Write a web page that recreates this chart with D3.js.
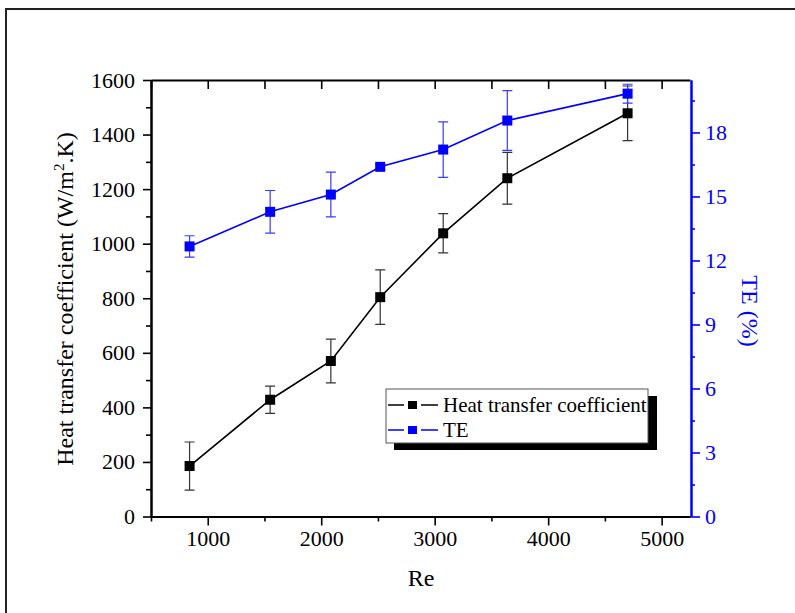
<!DOCTYPE html>
<html>
<head>
<meta charset="utf-8">
<script src="https://cdn.jsdelivr.net/npm/d3@7/dist/d3.min.js"></script>
<style>
  body { margin: 0; background: #fff; overflow: hidden; }
  svg { display: block; }
  .axis .domain { stroke-width: 2; }
  .axis line { stroke-width: 1.6; }
</style>
</head>
<body>
<svg id="chart" width="795" height="613"></svg>
<script>
// data
const re = [840, 1550, 2085, 2520, 3075, 3640, 4700]
const htc = [185, 428, 570, 804, 1038, 1240, 1478]
const htcErr = [88, 50, 80, 100, 72, 95, 100]
const te = [12.66, 14.28, 15.09, 16.39, 17.2, 18.56, 19.82]
const teErr = [0.5, 1.0, 1.05, 0.12, 1.3, 1.4, 0.44]

const xTicks = [1000, 2000, 3000, 4000, 5000]
const xMinor = [500, 1500, 2500, 3500, 4500]
const yTicks = [0, 200, 400, 600, 800, 1000, 1200, 1400, 1600]
const yMinor = [100, 300, 500, 700, 900, 1100, 1300, 1500]
const teTicks = [0, 3, 6, 9, 12, 15, 18]
const teMinor = [1.5, 4.5, 7.5, 10.5, 13.5, 16.5, 19.5]

const legendNames = ['Heat transfer coefficient', 'TE']

const plotLeft = 151, plotRight = 690, plotTop = 80, plotBottom = 516.5
const blue = '#0000ff'
const serif = '"Liberation Serif", "Times New Roman", serif'

const svg = d3.select('#chart').style('font-family', serif)

// outer frame of the figure (only top and left edges are in view)
svg.append('path')
   .attr('d', 'M6,613V9H795')
   .attr('fill', 'none')
   .attr('stroke', '#222')
   .attr('stroke-width', 2)

const x = d3.scaleLinear().domain([500, 5250]).range([plotLeft, plotRight])
const yL = d3.scaleLinear().domain([0, 1600]).range([plotBottom, plotTop])
const yR = d3.scaleLinear().domain([0, 20.46]).range([plotBottom, plotTop])

const pts = re.map((r, i) => ({ re: r, h: htc[i], he: htcErr[i], t: te[i], tee: teErr[i] }))

// axes
const addAxis = (axis, tx, ty, color) => {
    const g = svg.append('g')
                 .attr('class', 'axis')
                 .attr('transform', 'translate(' + tx + ',' + ty + ')')
                 .call(axis)
    g.attr('font-family', serif).attr('font-size', 22)
    g.selectAll('path, line').attr('stroke', color)
    g.selectAll('text')
     .attr('fill', color)
     .style('font-family', serif)
     .style('font-size', '22px')
    return g
}

const fmt = d3.format('d')

addAxis(d3.axisBottom(x).tickValues(xTicks).tickSize(9).tickSizeOuter(0).tickPadding(5).tickFormat(fmt), 0, plotBottom, '#000')
addAxis(d3.axisBottom(x).tickValues(xMinor).tickSize(5).tickSizeOuter(0).tickFormat(''), 0, plotBottom, '#000')
addAxis(d3.axisTop(x).tickValues(xTicks.concat(xMinor)).tickSize(-9).tickSizeOuter(0).tickFormat(''), 0, plotTop, '#000')
addAxis(d3.axisLeft(yL).tickValues(yTicks).tickSize(8).tickSizeOuter(0).tickPadding(8).tickFormat(fmt), plotLeft, 0, '#000')
addAxis(d3.axisLeft(yL).tickValues(yMinor).tickSize(5).tickSizeOuter(0).tickFormat(''), plotLeft, 0, '#000')
addAxis(d3.axisRight(yR).tickValues(teMinor).tickSize(4).tickSizeOuter(0).tickFormat(''), plotRight + 1, 0, blue)
addAxis(d3.axisRight(yR).tickValues(teTicks).tickSize(9).tickSizeOuter(0).tickPadding(5).tickFormat(fmt), plotRight + 1, 0, blue)

// axis titles
svg.append('text')
   .attr('x', 421).attr('y', 586)
   .attr('text-anchor', 'middle')
   .attr('font-size', 24)
   .text('Re')

const yTitle = svg.append('text')
   .attr('transform', 'translate(73,299) rotate(-90)')
   .attr('text-anchor', 'middle')
   .attr('font-size', 24)
yTitle.append('tspan').text('Heat transfer coefficient (W/m')
yTitle.append('tspan').attr('dy', -9).attr('font-size', 15).text('2')
yTitle.append('tspan').attr('dy', 9).text('.K)')

svg.append('text')
   .attr('transform', 'translate(742,311) rotate(90)')
   .attr('text-anchor', 'middle')
   .attr('font-size', 24)
   .attr('fill', blue)
   .text('TE (%)')

// series drawing helper
const drawSeries = (yScale, valKey, errKey, color, errColor) => {
    const g = svg.append('g')
    g.selectAll('.err')
     .data(pts)
     .enter()
     .append('path')
     .attr('fill', 'none')
     .attr('stroke', errColor)
     .attr('stroke-width', 1.2)
     .attr('d', d => {
        const cx = x(d.re)
        const y1 = yScale(d[valKey] + d[errKey])
        const y2 = yScale(d[valKey] - d[errKey])
        return 'M' + (cx - 5) + ',' + y1 + 'H' + (cx + 5) +
               'M' + cx + ',' + y1 + 'V' + y2 +
               'M' + (cx - 5) + ',' + y2 + 'H' + (cx + 5)
     })
    g.append('path')
     .datum(pts)
     .attr('fill', 'none')
     .attr('stroke', color)
     .attr('stroke-width', 1.6)
     .attr('d', d3.line().x(d => x(d.re)).y(d => yScale(d[valKey])))
    g.selectAll('.pt')
     .data(pts)
     .enter()
     .append('rect')
     .attr('x', d => x(d.re) - 5)
     .attr('y', d => yScale(d[valKey]) - 5)
     .attr('width', 10)
     .attr('height', 10)
     .attr('fill', color)
}

drawSeries(yL, 'h', 'he', '#000', '#333')
drawSeries(yR, 't', 'tee', blue, '#3a3aff')

// legend with shadow
const lg = svg.append('g')
lg.append('rect')
  .attr('x', 394).attr('y', 396)
  .attr('width', 263).attr('height', 54)
  .attr('fill', '#000')
lg.append('rect')
  .attr('x', 386).attr('y', 389)
  .attr('width', 262).attr('height', 54)
  .attr('fill', '#fff')
  .attr('stroke', '#555')
  .attr('stroke-width', 1)

const legendColors = ['#000', blue]
legendNames.forEach((name, i) => {
    const cy = 405 + i * 25
    lg.append('path')
      .attr('d', 'M388,' + cy + 'H404M421,' + cy + 'H438')
      .attr('stroke', legendColors[i])
      .attr('stroke-width', 1.6)
    lg.append('rect')
      .attr('x', 408).attr('y', cy - 4)
      .attr('width', 9).attr('height', 8)
      .attr('fill', legendColors[i])
    lg.append('text')
      .attr('x', 443).attr('y', cy + 7)
      .attr('font-size', 21)
      .text(name)
})
</script>
</body>
</html>
